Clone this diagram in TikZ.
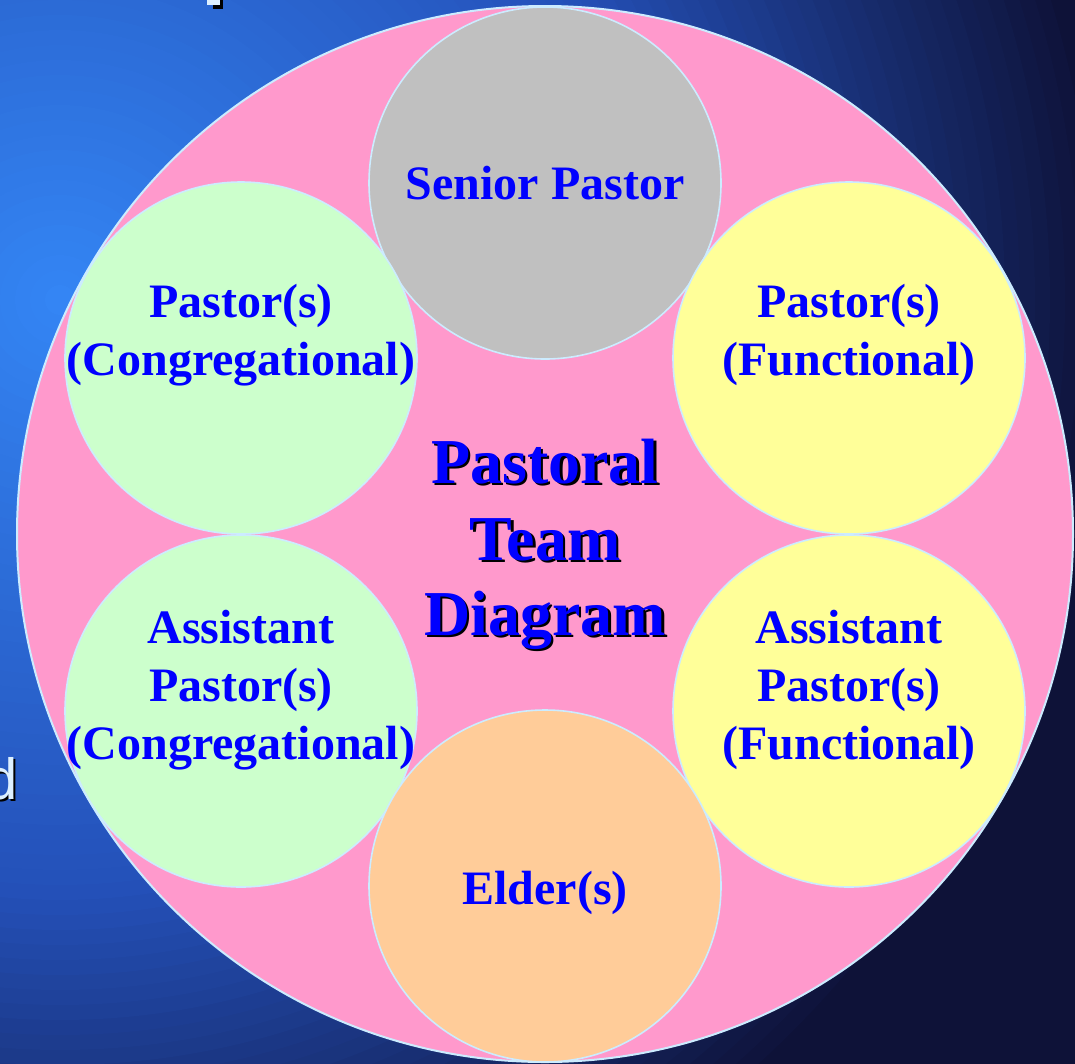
\documentclass[tikz,border=0pt]{standalone}
\usepackage{fontspec}
\setmainfont{Liberation Serif}
\newfontfamily\sansfam{Liberation Sans}
\definecolor{bgdark}{HTML}{0E1238}
\definecolor{bgmid}{HTML}{2450B8}
\definecolor{bglight}{HTML}{3486F5}
\definecolor{cpink}{HTML}{FF99CC}
\definecolor{cgray}{HTML}{C0C0C0}
\definecolor{cgreen}{HTML}{CCFFCC}
\definecolor{cyellow}{HTML}{FFFF99}
\definecolor{corange}{HTML}{FFCC99}
\definecolor{cline}{HTML}{CCECFF}
\definecolor{ctext}{HTML}{0000FF}
\definecolor{dlight}{HTML}{DDF0FF}
\begin{document}
\begin{tikzpicture}[x=1pt,y=-1pt,
  bigc/.style={circle, draw=cline, line width=2pt, fill=cpink, minimum size=1056pt, inner sep=0pt},
  smallc/.style={circle, draw=cline, line width=1.6pt, minimum size=352pt, inner sep=0pt},
  lbl/.style={anchor=base, text=ctext, inner sep=0pt, font=\bfseries\fontsize{48}{57}\selectfont},
  ttl/.style={anchor=base, inner sep=0pt, font=\bfseries\fontsize{64}{76}\selectfont}]
\useasboundingbox (0,0) rectangle (1075,1063);
\begin{scope}
  \clip (0,0) rectangle (1075,1063);
  \foreach \r in {1300,1050,1035,...,0} {
    \pgfmathtruncatemacro\pa{min(100,max(0,(\r-600)/4.5))}
    \pgfmathtruncatemacro\pb{min(100,max(0,\r/6))}
    \ifnum\r>600
      \fill[bgdark!\pa!bgmid] (60,300) circle[radius=\r pt];
    \else
      \fill[bgmid!\pb!bglight] (60,300) circle[radius=\r pt];
    \fi
  }
  % fragment of cut-off text at top
  \fill[black] (213,0) rectangle (223,9);
  \fill[dlight] (207,0) rectangle (220,5);
  % cut-off letter at left edge
  \node[anchor=base east, inner sep=0pt, text=black, font=\sansfam\fontsize{58}{70}\selectfont] (dshadow) at (20,801) {d};
  \node[anchor=base east, inner sep=0pt, text=dlight, font=\sansfam\fontsize{58}{70}\selectfont] (dletter) at (18,799) {d};
\end{scope}

\node[bigc] (team) at (545,534) {};
\node[smallc, fill=cgray] (senior) at (545,183) {};
\node[smallc, fill=cgreen] (pcong) at (241,358) {};
\node[smallc, fill=cyellow] (pfunc) at (849,358) {};
\node[smallc, fill=cgreen] (acong) at (241,711) {};
\node[smallc, fill=cyellow] (afunc) at (849,711) {};
\node[smallc, fill=corange] (elder) at (545,886) {};

\node[lbl] (senlbl) at (545,199) {Senior Pastor};

\node[lbl] (pc1) at (241,317) {Pastor(s)};
\node[lbl] (pc2) at (241,375) {(Congregational)};

\node[lbl] (pf1) at (849,317) {Pastor(s)};
\node[lbl] (pf2) at (849,375) {(Functional)};

\node[lbl] (ac1) at (241,643) {Assistant};
\node[lbl] (ac2) at (241,701) {Pastor(s)};
\node[lbl] (ac3) at (241,759) {(Congregational)};

\node[lbl] (af1) at (849,643) {Assistant};
\node[lbl] (af2) at (849,701) {Pastor(s)};
\node[lbl] (af3) at (849,759) {(Functional)};

\node[lbl] (eldlbl) at (545,904) {Elder(s)};

\node[ttl, text=black] (ts1) at (547.5,485.5) {Pastoral};
\node[ttl, text=black] (ts2) at (547.5,562.5) {Team};
\node[ttl, text=black] (ts3) at (547.5,637.5) {Diagram};
\node[ttl, text=ctext] (tt1) at (545,483) {Pastoral};
\node[ttl, text=ctext] (tt2) at (545,560) {Team};
\node[ttl, text=ctext] (tt3) at (545,635) {Diagram};
\end{tikzpicture}
\end{document}
